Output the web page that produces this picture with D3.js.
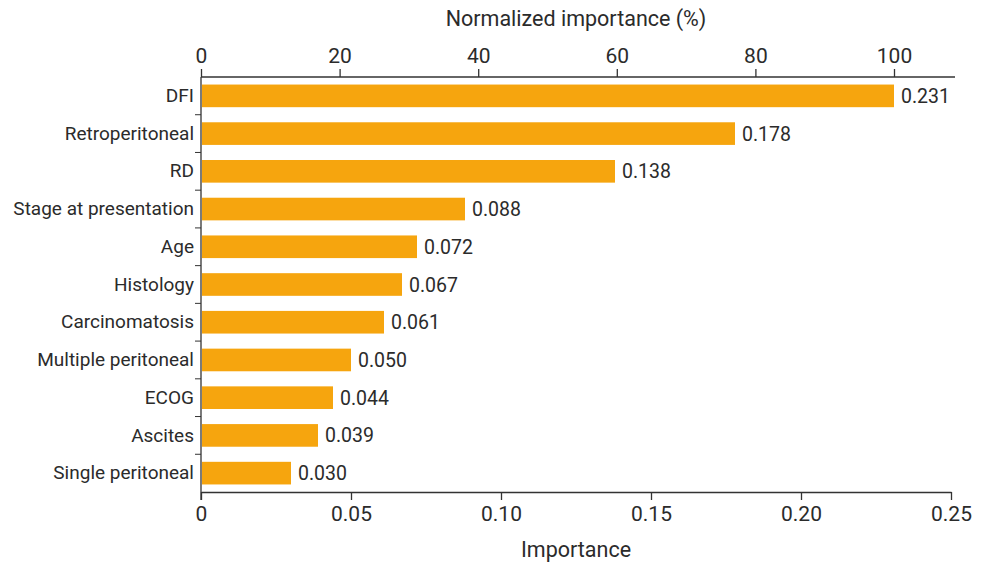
<!DOCTYPE html>
<html>
<head>
<meta charset="utf-8">
<script src="https://cdn.jsdelivr.net/npm/d3@7"></script>
<style>
  body { margin: 0; background: #fff; }
  text { font-family: Roboto, "Noto Sans", sans-serif; fill: #2b2b2b; }
</style>
</head>
<body>
<div id="graphique"></div>
<script>
// donnees
const categories = ["DFI", "Retroperitoneal", "RD", "Stage at presentation", "Age", "Histology",
  "Carcinomatosis", "Multiple peritoneal", "ECOG", "Ascites", "Single peritoneal"];
const importance = [0.231, 0.178, 0.138, 0.088, 0.072, 0.067, 0.061, 0.050, 0.044, 0.039, 0.030];
const bottomTicks = [0, 0.05, 0.10, 0.15, 0.20, 0.25];
const topTicks = [0, 20, 40, 60, 80, 100];

const width = 989, height = 564;
const mLeft = 201, mRight = 951, mTop = 77, mBottom = 492;

let svg = d3.select("#graphique").append("svg")
  .attr("width", width)
  .attr("height", height);

let x = d3.scaleLinear().domain([0, 0.25]).range([mLeft, mRight]);
// echelle du haut : 100% = valeur max
let maxVal = d3.max(importance);
let xTop = d3.scaleLinear().domain([0, 100]).range([mLeft, x(maxVal)]);

let y = d3.scaleBand().domain(categories).range([mTop, mBottom]).paddingInner(0.4).paddingOuter(0.2);

// barres
svg.selectAll("rect.bar")
  .data(categories)
  .enter().append("rect")
  .attr("class", "bar")
  .attr("x", x(0) + 1)
  .attr("y", d => y(d))
  .attr("height", y.bandwidth())
  .attr("width", (d, i) => x(importance[i]) - x(0) - 1)
  .attr("fill", "#F6A50E");

// valeurs au bout des barres
svg.selectAll("text.val")
  .data(categories)
  .enter().append("text")
  .attr("class", "val")
  .attr("x", (d, i) => x(importance[i]) + 7)
  .attr("y", d => y(d) + y.bandwidth() / 2)
  .attr("dy", "0.36em")
  .style("font-size", "19.5px")
  .text((d, i) => importance[i].toFixed(3));

// axe du bas
let axeBas = svg.append("g")
  .attr("transform", `translate(0,${mBottom})`)
  .call(d3.axisBottom(x).tickValues(bottomTicks)
    .tickFormat(d => d === 0 ? "0" : d3.format(".2f")(d))
    .tickSize(8).tickSizeOuter(0).tickPadding(6));
axeBas.selectAll("text").style("font-size", "21px");

// axe du haut
let axeHaut = svg.append("g")
  .attr("transform", `translate(0,${mTop})`)
  .call(d3.axisTop(xTop).tickValues(topTicks).tickSize(8).tickSizeOuter(0).tickPadding(6));
axeHaut.select(".domain").attr("d", `M${mLeft},0H${mRight + 4}`);
axeHaut.selectAll("text").style("font-size", "21px");

// axe des categories, ticks entre les barres
let axeY = svg.append("g")
  .attr("transform", `translate(${mLeft},0)`)
  .call(d3.axisLeft(y).tickSize(0).tickPadding(7));
axeY.select(".domain").attr("d", `M0,${mTop}V${mBottom + 8}`);
axeY.selectAll("text").style("font-size", "19px");

let bornes = categories.slice(1).map(d => y(d) - y.step() * y.paddingInner() / 2);
svg.selectAll("line.sep")
  .data(bornes)
  .enter().append("line")
  .attr("class", "sep")
  .attr("x1", mLeft - 6).attr("x2", mLeft)
  .attr("y1", d => d).attr("y2", d => d)
  .attr("stroke", "#333");

svg.selectAll(".domain, .tick line").attr("stroke", "#333").attr("stroke-width", 1.3);

// titres des axes
svg.append("text")
  .attr("x", (mLeft + mRight) / 2)
  .attr("y", 26)
  .attr("text-anchor", "middle")
  .style("font-size", "21.5px")
  .text("Normalized importance (%)");

svg.append("text")
  .attr("x", (mLeft + mRight) / 2)
  .attr("y", 557)
  .attr("text-anchor", "middle")
  .style("font-size", "21.5px")
  .text("Importance");
</script>
</body>
</html>
